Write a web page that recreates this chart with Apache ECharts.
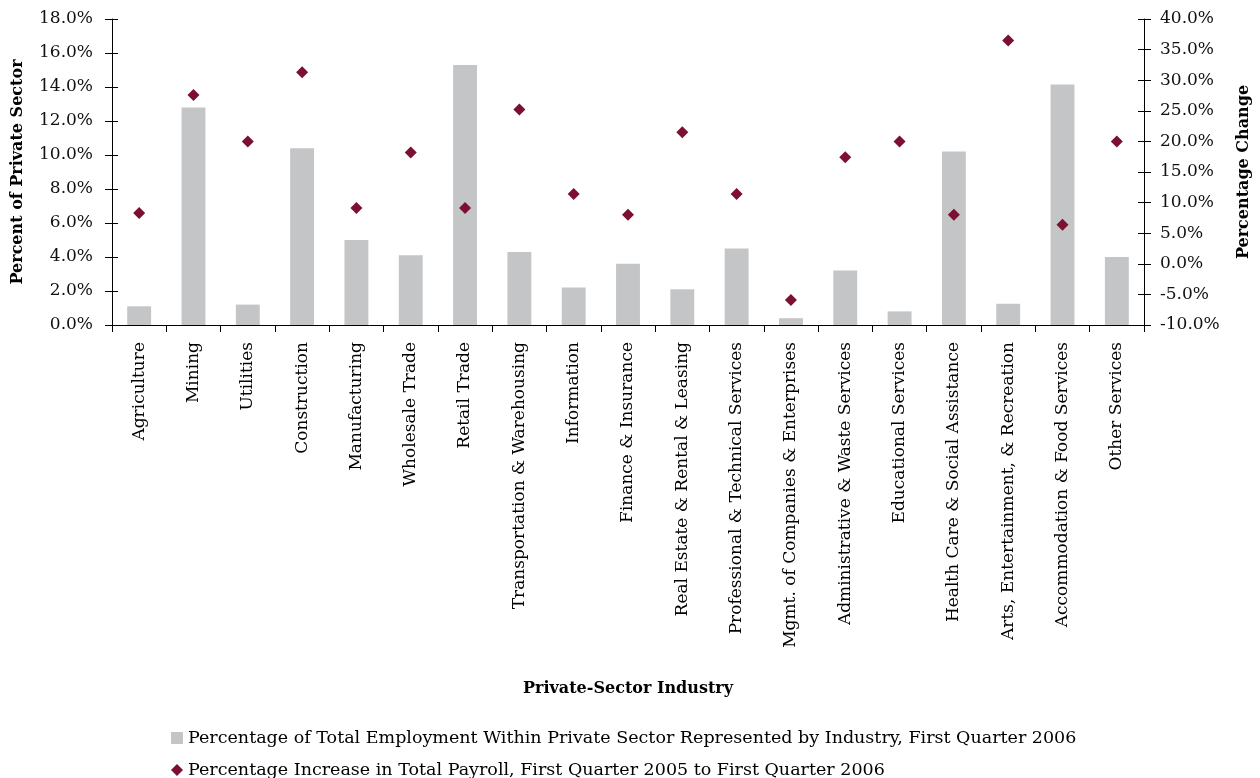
<!DOCTYPE html>
<html>
<head>
<meta charset="utf-8">
<script src="https://cdn.jsdelivr.net/npm/echarts@6/dist/echarts.min.js"></script>
<style>
  html, body { margin: 0; padding: 0; background: #fff; }
  #chart { width: 1260px; height: 778px; }
</style>
</head>
<body>
<div id="chart"></div>
<script>
// Private-sector industries
const industries = [
  'Agriculture', 'Mining', 'Utilities', 'Construction', 'Manufacturing',
  'Wholesale Trade', 'Retail Trade', 'Transportation & Warehousing', 'Information',
  'Finance & Insurance', 'Real Estate & Rental & Leasing', 'Professional & Technical Services',
  'Mgmt. of Companies & Enterprises', 'Administrative & Waste Services', 'Educational Services',
  'Health Care & Social Assistance', 'Arts, Entertainment, & Recreation',
  'Accommodation & Food Services', 'Other Services'
];

// Share of private-sector employment, Q1 2006 (%)
const employmentShare = [
  1.1, 12.8, 1.2, 10.4, 5.0, 4.1, 15.3, 4.3, 2.2, 3.6,
  2.1, 4.5, 0.4, 3.2, 0.8, 10.2, 1.25, 14.15, 4.0
];

// Change in total payroll, Q1 2005 to Q1 2006 (%)
const payrollChange = [
  8.3, 27.6, 20.0, 31.3, 9.1, 18.2, 9.1, 25.2, 11.4, 8.0,
  21.5, 11.4, -5.9, 17.4, 20.0, 8.0, 36.5, 6.4, 20.0
];

const seriesNames = [
  'Percentage of Total Employment Within Private Sector Represented by Industry, First Quarter 2006',
  'Percentage Increase in Total Payroll, First Quarter 2005 to First Quarter 2006'
];

const FONT = 'DejaVu Serif';
const BAR_COLOR = '#c4c5c7';
const MARK_COLOR = '#7b1030';
const pct = v => v.toFixed(1) + '%';

const legendText = { fontFamily: FONT, fontSize: 17.5, color: '#000' };
const titleText = { fontFamily: FONT, fontSize: 16, fontWeight: 'bold', color: '#000' };

const chart = echarts.init(document.getElementById('chart'));
chart.setOption({
  animation: false,
  textStyle: { fontFamily: FONT, color: '#000' },
  grid: { left: 112, right: 113, top: 19, bottom: 453, containLabel: false },
  legend: [
    {
      left: 166, top: 724, itemWidth: 12, itemHeight: 12, itemGap: 0,
      textStyle: legendText,
      data: [{ name: seriesNames[0], icon: 'rect' }]
    },
    {
      left: 166, top: 756, itemWidth: 12, itemHeight: 12, itemGap: 0,
      textStyle: legendText,
      data: [{ name: seriesNames[1], icon: 'diamond' }]
    }
  ],
  xAxis: {
    type: 'category',
    data: industries,
    name: 'Private-Sector Industry',
    nameLocation: 'middle',
    nameGap: 356,
    nameTextStyle: titleText,
    axisLine: { lineStyle: { color: '#000', width: 1 } },
    axisTick: { show: true, length: 7, lineStyle: { color: '#000' } },
    axisLabel: { rotate: 90, fontFamily: FONT, fontSize: 17, color: '#000', margin: 17, interval: 0 }
  },
  yAxis: [
    {
      type: 'value', min: 0, max: 18, interval: 2, position: 'left',
      name: 'Percent of Private Sector',
      nameLocation: 'middle', nameGap: 86,
      nameTextStyle: titleText,
      axisLine: { show: true, lineStyle: { color: '#000' } },
      axisTick: { show: true, length: 7, lineStyle: { color: '#000' } },
      axisLabel: { formatter: pct, fontFamily: FONT, fontSize: 17, color: '#111', margin: 19 },
      splitLine: { show: false }
    },
    {
      type: 'value', min: -10, max: 40, interval: 5, position: 'right',
      name: 'Percentage Change',
      nameLocation: 'middle', nameGap: 92,
      nameTextStyle: titleText,
      axisLine: { show: true, lineStyle: { color: '#000' } },
      axisTick: { show: true, length: 7, lineStyle: { color: '#000' } },
      axisLabel: { formatter: pct, fontFamily: FONT, fontSize: 17, color: '#111', margin: 16 },
      splitLine: { show: false }
    },
    // inner halves of the crossing tick marks
    {
      type: 'value', min: 0, max: 18, interval: 2, position: 'left',
      axisLine: { show: false },
      axisTick: { show: true, inside: true, length: 6, lineStyle: { color: '#000' } },
      axisLabel: { show: false }, splitLine: { show: false }
    },
    {
      type: 'value', min: -10, max: 40, interval: 5, position: 'right',
      axisLine: { show: false },
      axisTick: { show: true, inside: true, length: 6, lineStyle: { color: '#000' } },
      axisLabel: { show: false }, splitLine: { show: false }
    }
  ],
  series: [
    {
      name: seriesNames[0],
      type: 'bar',
      yAxisIndex: 0,
      barWidth: '44%',
      itemStyle: { color: BAR_COLOR },
      data: employmentShare
    },
    {
      name: seriesNames[1],
      type: 'scatter',
      yAxisIndex: 1,
      symbol: 'diamond',
      symbolSize: 12,
      itemStyle: { color: MARK_COLOR, opacity: 1 },
      data: payrollChange
    }
  ]
});
</script>
</body>
</html>
